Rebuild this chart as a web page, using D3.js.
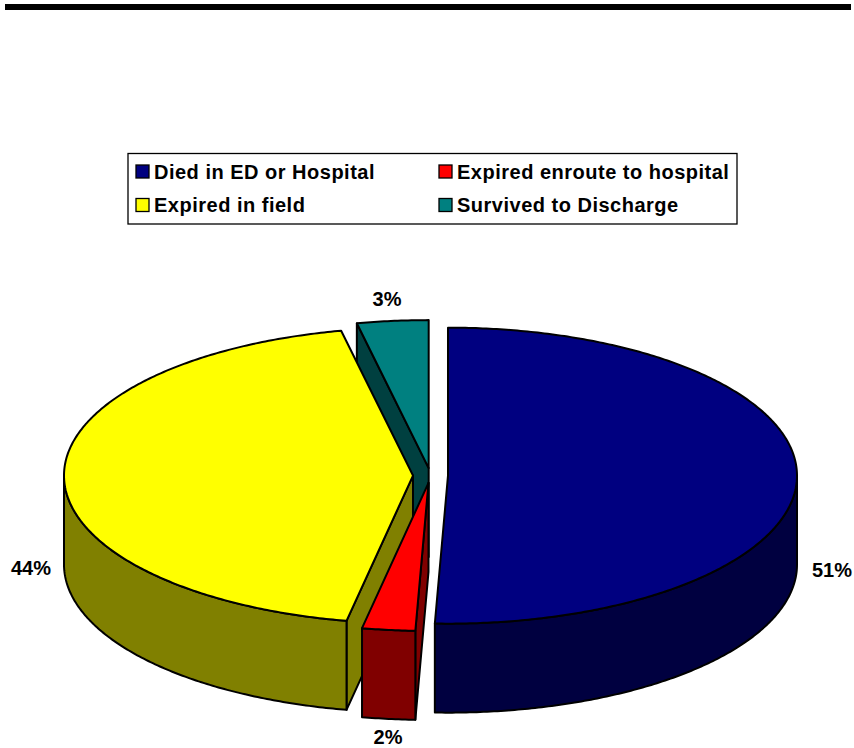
<!DOCTYPE html>
<html>
<head>
<meta charset="utf-8">
<script src="https://cdn.jsdelivr.net/npm/d3@7"></script>
<style>
  html, body { margin: 0; padding: 0; background: #fff; }
  text { font-family: "Liberation Sans", Arial, sans-serif; font-weight: bold; fill: #000; }
</style>
</head>
<body>
<div id="chart"></div>
<script>
var categories = ["Died in ED or Hospital", "Expired enroute to hospital", "Expired in field", "Survived to Discharge"];
var values = [50.6, 2.45, 43.65, 3.3];
var top_colors = ["#000080", "#ff0000", "#ffff00", "#008080"];
var side_colors = ["#000040", "#800000", "#808000", "#004040"];

var width = 854, height = 748;
var cx = 430.5, cy = 475.5, rx = 349, ry = 148, depth = 89, explode = 17.5;

var svg = d3.select("#chart").append("svg")
    .attr("width", width)
    .attr("height", height)
    .style("display", "block");

// rule across the top
svg.append("rect")
    .attr("x", 5).attr("y", 4)
    .attr("width", 846).attr("height", 6)
    .attr("fill", "#000");

// legend
var legend = svg.append("g");
legend.append("rect")
    .attr("x", 128).attr("y", 153.5)
    .attr("width", 609).attr("height", 70.5)
    .attr("fill", "#fff").attr("stroke", "#000").attr("stroke-width", 1.3);

var legend_x = [136, 439], legend_y = [165, 198.5];
categories.forEach(function(name, i) {
    var col = i % 2, row = Math.floor(i / 2);
    legend.append("rect")
        .attr("x", legend_x[col]).attr("y", legend_y[row])
        .attr("width", 13).attr("height", 13)
        .attr("fill", top_colors[i]).attr("stroke", "#000").attr("stroke-width", 1.3);
    legend.append("text")
        .attr("x", legend_x[col] + 18).attr("y", legend_y[row] + 13.5)
        .attr("font-size", 20)
        .attr("letter-spacing", 0.5)
        .text(name);
});

var pie = d3.pie().sort(null)(values);

// angle is clockwise from the top of the ellipse
function px(a, r) { return r * Math.sin(a); }
function py(a, r) { return -r * (ry / rx) * Math.cos(a); }

var line = d3.line();

function arc_points(a0, a1, ox, oy, dy) {
    var n = Math.max(2, Math.ceil((a1 - a0) / 0.01));
    return d3.range(n + 1).map(function(k) {
        var a = a0 + (a1 - a0) * k / n;
        return [ox + px(a, rx), oy + py(a, rx) + dy];
    });
}

function draw_shape(g, pts, fill) {
    g.append("path")
        .attr("d", line(pts) + "Z")
        .attr("fill", fill)
        .attr("stroke", "#000")
        .attr("stroke-width", 2)
        .attr("stroke-linejoin", "round");
}

function draw_cut(g, a, ox, oy, fill) {
    var ex = ox + px(a, rx), ey = oy + py(a, rx);
    draw_shape(g, [[ox, oy], [ex, ey], [ex, ey + depth], [ox, oy + depth]], fill);
}

// back to front: teal, yellow, red, navy
var order = [3, 2, 1, 0];
order.forEach(function(i) {
    var s = pie[i];
    var mid = (s.startAngle + s.endAngle) / 2;
    var ox = cx + px(mid, explode), oy = cy + py(mid, explode);
    var g = svg.append("g");

    // cut faces, only when turned toward the viewer
    if (Math.sin(s.startAngle) < -1e-6) draw_cut(g, s.startAngle, ox, oy, side_colors[i]);
    if (Math.sin(s.endAngle) > 1e-6) draw_cut(g, s.endAngle, ox, oy, side_colors[i]);

    // outer wall, only the part that faces the viewer
    var w0 = Math.max(s.startAngle, Math.PI / 2), w1 = Math.min(s.endAngle, Math.PI * 1.5);
    if (w1 > w0) {
        var upper = arc_points(w0, w1, ox, oy, 0);
        var lower = arc_points(w0, w1, ox, oy, depth).reverse();
        draw_shape(g, upper.concat(lower), side_colors[i]);
    }

    // top
    draw_shape(g, [[ox, oy]].concat(arc_points(s.startAngle, s.endAngle, ox, oy, 0)), top_colors[i]);
});

// percent labels
var label_x = [832, 388, 31, 387], label_y = [577, 744, 575, 306];
values.forEach(function(v, i) {
    svg.append("text")
        .attr("x", label_x[i]).attr("y", label_y[i])
        .attr("text-anchor", "middle")
        .attr("font-size", 20)
        .text(d3.format(".0f")(v) + "%");
});
</script>
</body>
</html>
